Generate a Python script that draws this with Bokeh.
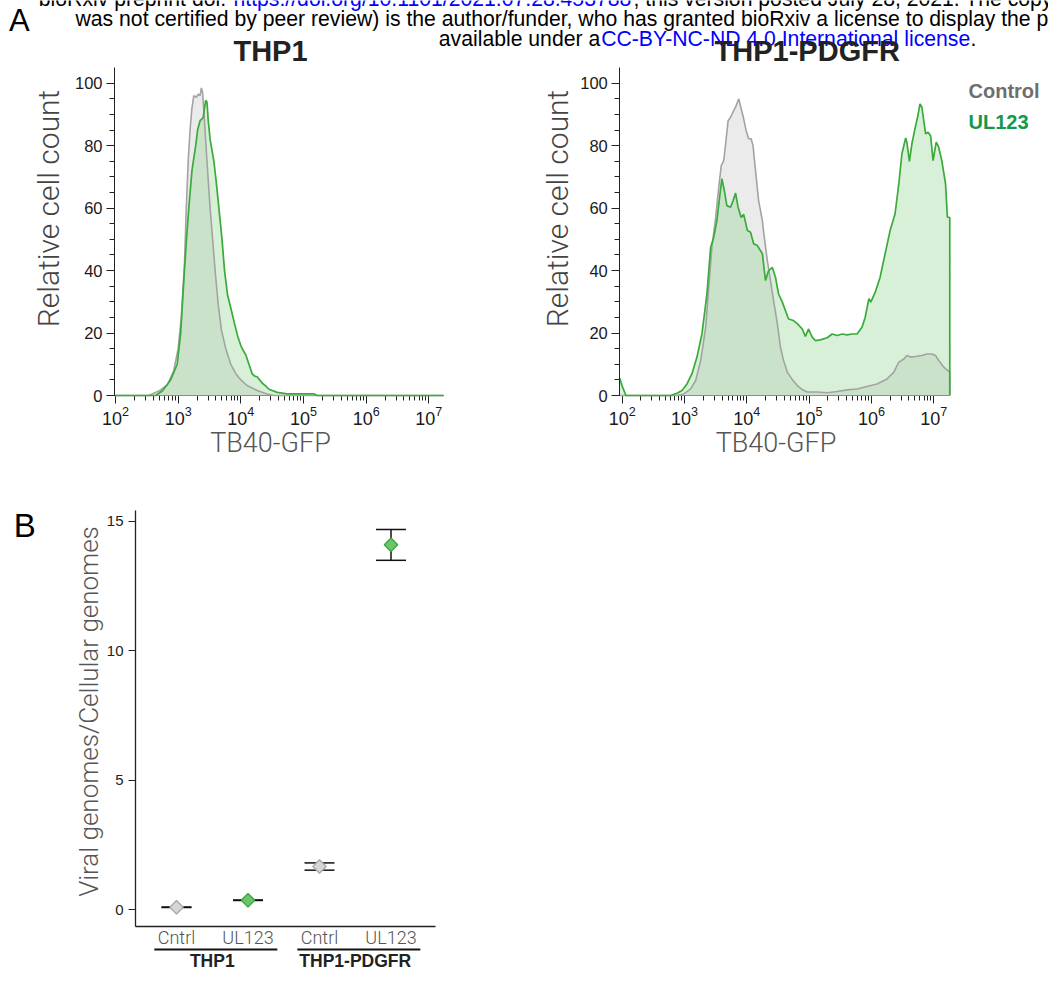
import math
from bokeh.plotting import figure
from bokeh.models import (Range1d, LogScale, LinearScale, LinearAxis, LogAxis,
                          FixedTicker, Label, ColumnDataSource, Whisker, TeeHead)
from bokeh.embed import file_html
from bokeh.resources import INLINE

# ---------------------------------------------------------------- data
# Panel A: flow-cytometry histograms (x = log10 TB40-GFP intensity, y = relative cell count)
thp1_ctrl_log_gfp = [1.984, 2.53, 2.70, 2.83, 2.93, 3.00, 3.05, 3.10, 3.13, 3.16, 3.19, 3.22, 3.25,
                     3.29, 3.32, 3.35, 3.37, 3.39, 3.42, 3.46, 3.51, 3.55, 3.59, 3.64, 3.69, 3.76,
                     3.84, 3.92, 4.00, 4.10, 4.26, 4.42, 4.53, 7.235]
thp1_ctrl_count = [0, 0, 1.5, 3.5, 8, 15, 25, 42, 60, 75, 85, 92, 96,
                   95.5, 96.5, 96, 98.5, 97, 88, 75, 60, 50, 40, 29, 21, 15,
                   10, 7, 5, 3.2, 1.6, 0.5, 0, 0]

thp1_ul123_log_gfp = [1.984, 2.64, 2.75, 2.88, 2.985, 3.04, 3.07, 3.10, 3.14, 3.17, 3.22, 3.28, 3.31,
                      3.35, 3.40, 3.42, 3.44, 3.46, 3.48, 3.51, 3.57, 3.61, 3.65, 3.70, 3.74, 3.79,
                      3.84, 3.90, 3.95, 4.00, 4.05, 4.08, 4.13, 4.18, 4.22, 4.26, 4.30, 4.34, 4.40,
                      4.45, 4.58, 4.74, 5.17, 5.22, 7.235]
thp1_ul123_count = [0, 0, 1.5, 5, 10, 20, 30, 40, 52, 60, 72, 80, 85,
                    88, 89, 92, 94.5, 94, 88, 82, 75, 68, 60, 50, 40, 32,
                    28, 23, 19, 16, 14, 13, 10, 7, 6.2, 6, 5, 4, 3,
                    2, 1, 0.5, 0.5, 0, 0]

pdgfr_ctrl_log_gfp = [1.961, 2.88, 2.99, 3.10, 3.18, 3.26, 3.34, 3.39, 3.44, 3.50, 3.55, 3.59, 3.63,
                      3.66, 3.70, 3.74, 3.79, 3.83, 3.87, 3.91, 3.95, 3.99, 4.03, 4.07, 4.10, 4.14,
                      4.19, 4.25, 4.28, 4.33, 4.38, 4.43, 4.49, 4.54, 4.59, 4.65, 4.73, 4.81, 4.89,
                      4.97, 5.13, 5.29, 5.45, 5.61, 5.77, 5.93, 6.09, 6.25, 6.36, 6.44, 6.52, 6.57,
                      6.63, 6.71, 6.81, 6.89, 6.97, 7.03, 7.08, 7.16, 7.258, 7.258]
pdgfr_ctrl_count = [0, 0, 0.5, 2.1, 4.8, 11.2, 21.9, 34.7, 47.5, 57, 66.7, 73.6, 75.2,
                    80.6, 88, 89.1, 91.2, 92.8, 95, 91.8, 88.6, 84.8, 82.2, 82.2, 80, 72,
                    62.4, 56, 50.7, 43.2, 36.8, 30.4, 23, 15.5, 11.2, 7.5, 5.1, 3.2, 1.9,
                    1.1, 1.1, 0.9, 1.3, 1.8, 2.1, 2.9, 3.7, 5.3, 7.5, 10.7, 11.7, 12.8,
                    12.3, 12.5, 12.8, 13.3, 13.3, 12.8, 11.2, 9.1, 7.5, 0]

pdgfr_ul123_log_gfp = [1.961, 2.00, 2.06, 2.78, 2.88, 2.96, 3.04, 3.12, 3.20, 3.28, 3.36, 3.42, 3.47,
                       3.52, 3.57, 3.60, 3.64, 3.68, 3.74, 3.78, 3.82, 3.86, 3.91, 3.95, 4.01, 4.06,
                       4.11, 4.17, 4.25, 4.30, 4.35, 4.41, 4.46, 4.51, 4.57, 4.62, 4.67, 4.75, 4.81,
                       4.89, 4.94, 4.99, 5.05, 5.10, 5.18, 5.29, 5.37, 5.45, 5.53, 5.61, 5.69, 5.77,
                       5.85, 5.90, 5.96, 5.99, 6.06, 6.14, 6.22, 6.30, 6.38, 6.44, 6.49, 6.55, 6.57,
                       6.61, 6.65, 6.71, 6.74, 6.78, 6.81, 6.87, 6.91, 6.95, 6.99, 7.04, 7.08, 7.13,
                       7.19, 7.22, 7.258, 7.258]
pdgfr_ul123_count = [5.5, 3.0, 0, 0, 0.7, 1.6, 3.7, 7, 12.3, 19.7, 32.5, 47.5, 50.7,
                     56, 64.6, 69.4, 65.6, 60.8, 60.3, 62.4, 64.8, 60.3, 57, 58, 52.8, 52.3,
                     48.6, 48, 45.4, 36.8, 40, 41, 37.9, 32.5, 29.9, 27.2, 24.5, 24, 23,
                     21.3, 18.9, 21.3, 18.7, 17.6, 17.8, 18.5, 19.7, 19.2, 19.7, 19.4, 19.7, 19.7,
                     21.9, 25, 31, 29.9, 33, 37.9, 45.4, 52.8, 58.2, 67.8, 77.4, 82.5, 81,
                     75, 80.6, 86.4, 89, 93.4, 92.3, 83.8, 84.3, 83.2, 75.2, 81.1, 79.5, 75.2,
                     67.8, 57.1, 57, 0]

gfp_tick_exponents = [2, 3, 4, 5, 6, 7]
count_ticks = [0, 20, 40, 60, 80, 100]

# Panel B: viral genomes per cellular genome
conditions = ["Cntrl", "UL123", "Cntrl", "UL123"]
cell_lines = ["THP1", "THP1", "THP1-PDGFR", "THP1-PDGFR"]
genome_ratio = [0.10, 0.37, 1.67, 14.09]
ratio_low = [0.09, 0.36, 1.53, 13.49]
ratio_high = [0.11, 0.38, 1.81, 14.68]
ratio_ticks = [0, 5, 10, 15]

# ---------------------------------------------------------------- styling
GRAY_LINE = "#a3a3a3"
GRAY_FILL = "#ebebeb"
GREEN_LINE = "#3aab3a"
GREEN_FILL = "#7dcd7d"
AXIS = "#222222"
LIGHT = "Roboto Light"
SANS = "Liberation Sans"

W, H = 1048, 969


def span(v0, p0, v1, p1, size):
    """values found at pixel 0 and at pixel `size` for the linear map through two anchors"""
    k = (v1 - v0) / (p1 - p0)
    return v0 - p0 * k, v0 + (size - p0) * k


p = figure(width=W, height=H, output_backend="svg", toolbar_location=None,
           x_range=Range1d(0, W), y_range=Range1d(H, 0),
           x_axis_location=None, y_axis_location=None, min_border=0)
p.outline_line_color = None
p.grid.visible = False
p.background_fill_color = "white"
p.border_fill_color = "white"

l0, l1 = span(2, 115, 7, 428.3, W)
r0, r1 = span(2, 621.7, 7, 933.2, W)
b0, b1 = span(1, 176, 4, 390.5, W)
hy_top, hy_bot = span(0, 395, 100, 82.7, H)
by_top, by_bot = span(0, 909.3, 15, 520.7, H)

p.extra_x_ranges = {"h1x": Range1d(10 ** l0, 10 ** l1),
                    "h2x": Range1d(10 ** r0, 10 ** r1),
                    "bx": Range1d(b0, b1)}
p.extra_x_scales = {"h1x": LogScale(), "h2x": LogScale(), "bx": LinearScale()}
p.extra_y_ranges = {"hy": Range1d(hy_bot, hy_top), "by": Range1d(by_bot, by_top)}
p.extra_y_scales = {"hy": LinearScale(), "by": LinearScale()}

minor_gfp = [m * 10 ** e for e in range(gfp_tick_exponents[0], gfp_tick_exponents[-1]) for m in range(2, 10)]


def histogram_panel(xr, ctrl_lg, ctrl_ct, ul_lg, ul_ct):
    cs = ColumnDataSource(dict(x=[10 ** v for v in ctrl_lg], y=ctrl_ct))
    us = ColumnDataSource(dict(x=[10 ** v for v in ul_lg], y=ul_ct))
    p.varea(x="x", y1=0, y2="y", source=cs, x_range_name=xr, y_range_name="hy",
            fill_color=GRAY_FILL, fill_alpha=1.0)
    p.varea(x="x", y1=0, y2="y", source=us, x_range_name=xr, y_range_name="hy",
            fill_color=GREEN_FILL, fill_alpha=0.3)
    p.line(x="x", y="y", source=cs, x_range_name=xr, y_range_name="hy",
           line_color=GRAY_LINE, line_width=1.6)
    p.line(x="x", y="y", source=us, x_range_name=xr, y_range_name="hy",
           line_color=GREEN_LINE, line_width=1.7)

    xmin = 10 ** min(ctrl_lg + ul_lg)
    xmax = 10 ** max(ctrl_lg + ul_lg)
    xa = LogAxis(x_range_name=xr, y_range_name="hy", fixed_location=0, bounds=(xmin, xmax),
                 ticker=FixedTicker(ticks=[10 ** e for e in gfp_tick_exponents], minor_ticks=minor_gfp))
    xa.level = "underlay"
    xa.axis_line_color = AXIS
    xa.major_tick_line_color = AXIS
    xa.minor_tick_line_color = AXIS
    xa.major_tick_in = 0
    xa.major_tick_out = 8
    xa.minor_tick_in = 0
    xa.minor_tick_out = 5
    xa.major_label_standoff = 2
    xa.major_label_text_align = "left"
    xa.major_label_text_font = SANS
    xa.major_label_text_font_size = "18px"
    xa.major_label_text_color = "#1a1a1a"
    p.add_layout(xa, "below")

    ya = LinearAxis(x_range_name=xr, y_range_name="hy", fixed_location=xmin, bounds=(0, 105),
                    ticker=FixedTicker(ticks=count_ticks, minor_ticks=list(range(0, 101, 5))))
    ya.axis_line_color = AXIS
    ya.major_tick_line_color = AXIS
    ya.minor_tick_line_color = AXIS
    ya.major_tick_in = 0
    ya.major_tick_out = 8
    ya.minor_tick_in = 0
    ya.minor_tick_out = 5
    ya.major_label_standoff = 4
    ya.major_label_text_font = SANS
    ya.major_label_text_font_size = "16.5px"
    ya.major_label_text_color = "#1a1a1a"
    p.add_layout(ya, "left")


histogram_panel("h1x", thp1_ctrl_log_gfp, thp1_ctrl_count, thp1_ul123_log_gfp, thp1_ul123_count)
histogram_panel("h2x", pdgfr_ctrl_log_gfp, pdgfr_ctrl_count, pdgfr_ul123_log_gfp, pdgfr_ul123_count)

# ---------------------------------------------------------------- panel B
pos = [i + 1 for i in range(len(conditions))]
fills = ["#d6d6d6" if c == "Cntrl" else "#6cc46c" for c in conditions]
lines = ["#a8a8a8" if c == "Cntrl" else "#38a838" for c in conditions]
bsrc = ColumnDataSource(dict(x=pos, ratio=genome_ratio, low=ratio_low, high=ratio_high,
                             fill=fills, line=lines))
p.scatter(x="x", y="ratio", source=bsrc, x_range_name="bx", y_range_name="by",
          marker="square", angle=math.pi / 4, size=9.5,
          fill_color="fill", line_color="line", line_width=1.3)
p.add_layout(Whisker(source=bsrc, base="x", lower="low", upper="high",
                     x_range_name="bx", y_range_name="by",
                     line_color="#111111", line_width=1.5,
                     upper_head=TeeHead(size=30, line_color="#111111", line_width=1.5),
                     lower_head=TeeHead(size=30, line_color="#111111", line_width=1.5)))

bx_lo, bx_hi = pos[0] - 0.573, pos[-1] + 0.622
by_lo, by_hi = -0.633, 15.41
bxa = LinearAxis(x_range_name="bx", y_range_name="by", fixed_location=by_lo, bounds=(bx_lo, bx_hi),
                 ticker=FixedTicker(ticks=pos, minor_ticks=[]),
                 major_label_overrides={x: c for x, c in zip(pos, conditions)})
bxa.axis_line_color = AXIS
bxa.axis_line_width = 1.3
bxa.major_tick_line_color = None
bxa.major_tick_out = 0
bxa.major_tick_in = 0
bxa.minor_tick_line_color = None
bxa.major_label_standoff = 1
bxa.major_label_text_font = LIGHT
bxa.major_label_text_font_size = "18px"
bxa.major_label_text_color = "#555555"
p.add_layout(bxa, "below")

bya = LinearAxis(x_range_name="bx", y_range_name="by", fixed_location=bx_lo, bounds=(by_lo, by_hi),
                 ticker=FixedTicker(ticks=ratio_ticks, minor_ticks=[]))
bya.axis_line_color = AXIS
bya.axis_line_width = 1.3
bya.major_tick_line_color = AXIS
bya.major_tick_in = 0
bya.major_tick_out = 7
bya.major_label_standoff = 5
bya.major_label_text_font = SANS
bya.major_label_text_font_size = "15px"
bya.major_label_text_color = "#222222"
p.add_layout(bya, "left")

# cell-line group brackets and names
groups = list(dict.fromkeys(cell_lines))
gx0, gx1, gmid = [], [], []
for g in groups:
    xs = [x for x, c in zip(pos, cell_lines) if c == g]
    gx0.append(min(xs) - 0.31)
    gx1.append(max(xs) + 0.41)
    gmid.append(sum(xs) / len(xs))
p.segment(x0="x0", x1="x1", y0=949, y1=949,
          source=ColumnDataSource(dict(x0=gx0, x1=gx1)), x_range_name="bx",
          line_color="#111111", line_width=2)
for g, m in zip(groups, gmid):
    p.add_layout(Label(x=m, y=960, x_range_name="bx", text=g, text_align="center",
                       text_baseline="middle", text_font=SANS, text_font_style="bold",
                       text_font_size="17.5px", text_color="#222222"))


# ---------------------------------------------------------------- texts
def lab(x, y, text, size, color="#000000", font=SANS, style="normal", align="left",
        baseline="middle", angle=0.0):
    p.add_layout(Label(x=x, y=y, text=text, text_font=font, text_font_size=size,
                       text_font_style=style, text_color=color, text_align=align,
                       text_baseline=baseline, angle=angle))


# preprint header (y = vertical middle of the capitals)
HS = "21.2px"
lab(38.3, -2.1, "bioRxiv preprint doi: ", HS)
lab(233, -2.1, "https://doi.org/10.1101/2021.07.28.453788", HS, color="#0000ff")
lab(633, -2.1, "; this version posted July 28, 2021. The copyright holder for this preprint (which", HS)
lab(75, 18.1, "was not certified by peer review) is the author/funder, who has granted bioRxiv a "
              "license to display the preprint in perpetuity. It is made", HS)
lab(438.3, 38.1, "available under a", HS)
lab(600.7, 38.1, "CC-BY-NC-ND 4.0 International license", HS, color="#0000ff")
lab(970, 38.1, ".", HS)

# panel letters
lab(8.5, 19.5, "A", "31px")
lab(13.3, 525, "B", "33px")

# histogram titles
lab(270, 50.2, "THP1", "29px", color="#222222", style="bold", align="center")
lab(806.7, 50.2, "THP1-PDGFR", "29px", color="#222222", style="bold", align="center")

# legend
lab(968, 90, "Control", "20px", color="#6e6e6e", style="bold")
lab(968, 121.7, "UL123", "20px", color="#13994a", style="bold")

# axis titles
lab(47.5, 208, "Relative cell count", "30px", color="#444444", font=LIGHT,
    align="center", angle=math.pi / 2)
lab(557, 208, "Relative cell count", "30px", color="#444444", font=LIGHT,
    align="center", angle=math.pi / 2)
lab(270, 442.5, "TB40-GFP", "27px", color="#555555", font=LIGHT, align="center")
lab(775.5, 442.5, "TB40-GFP", "27px", color="#555555", font=LIGHT, align="center")
lab(88, 711, "Viral genomes/Cellular genomes", "26px", color="#555555", font=LIGHT,
    align="center", angle=math.pi / 2)

open("out.html", "w").write(file_html(p, INLINE))
